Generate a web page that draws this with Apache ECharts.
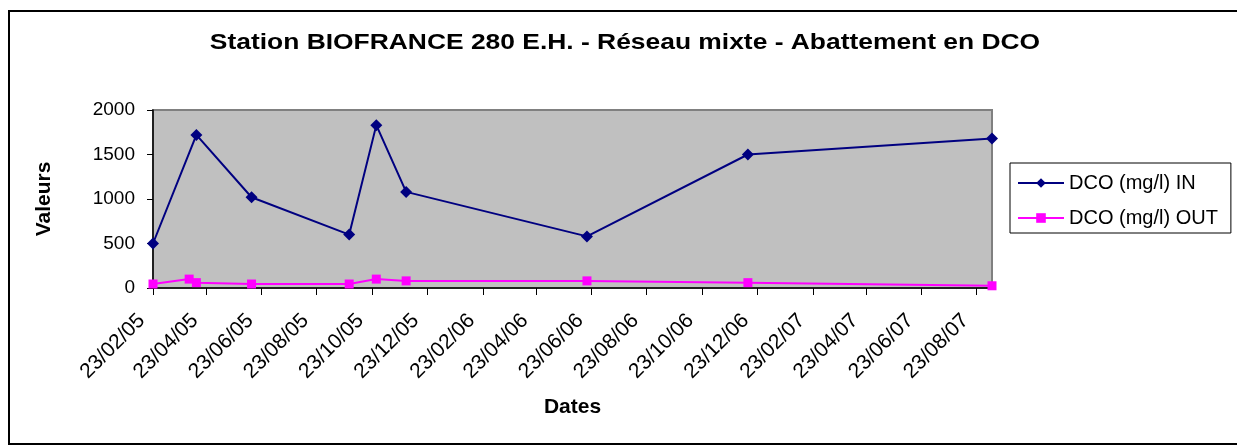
<!DOCTYPE html>
<html>
<head>
<meta charset="utf-8">
<script src="https://cdn.jsdelivr.net/npm/echarts@6/dist/echarts.min.js"></script>
<style>
html,body{margin:0;padding:0;background:#fff;}
#chart{width:1237px;height:446px;}
</style>
</head>
<body>
<div id="chart"></div>
<script>
// ---- data (dates as dd/mm/yy) ----
const inDates  = ['23/02/05','12/04/05','12/06/05','28/09/05','28/10/05','30/11/05','18/06/06','13/12/06','09/09/07'];
const inValues = [500, 1720, 1020, 600, 1830, 1080, 580, 1500, 1680];
const outDates  = ['23/02/05','04/04/05','12/04/05','12/06/05','28/09/05','28/10/05','30/11/05','18/06/06','13/12/06','09/09/07'];
const outValues = [45, 100, 60, 45, 45, 100, 80, 80, 60, 25];
const tickLabels = ['23/02/05','23/04/05','23/06/05','23/08/05','23/10/05','23/12/05','23/02/06','23/04/06','23/06/06','23/08/06','23/10/06','23/12/06','23/02/07','23/04/07','23/06/07','23/08/07'];
const axisMinDate = '23/02/05';
const axisMaxDate = '09/09/07';
const yTicks = [0, 500, 1000, 1500, 2000];
const seriesNames = ['DCO (mg/l) IN', 'DCO (mg/l) OUT'];
const titleText = 'Station BIOFRANCE 280 E.H. - Réseau mixte - Abattement en DCO';

// day number (UTC based, no DST issues)
function dayNum(s) {
  const p = s.split('/');
  return Math.round(Date.UTC(2000 + (+p[2]), (+p[1]) - 1, +p[0]) / 86400000);
}
const tickValues = tickLabels.map(dayNum);
const labelMap = {};
tickLabels.forEach((l, i) => { labelMap[tickValues[i]] = l; });

const FONT = "'Liberation Sans', Arial, sans-serif";
const chart = echarts.init(document.getElementById('chart'), null, {renderer: 'canvas'});
chart.setOption({
  animation: false,
  backgroundColor: '#ffffff',
  graphic: [{
    type: 'rect',
    shape: {x: 9, y: 11, width: 1240, height: 433},
    style: {fill: 'none', stroke: '#000', lineWidth: 2},
    silent: true
  }, {
    type: 'text',
    x: 625,
    y: 42.5,
    scaleX: 1.2,
    silent: true,
    style: {
      text: titleText,
      x: 0, y: 0,
      align: 'center',
      verticalAlign: 'middle',
      font: "bold 22px 'Liberation Sans', Arial, sans-serif",
      fill: '#000'
    }
  }],
  legend: {
    orient: 'vertical',
    left: 1010,
    top: 163,
    padding: [10, 13, 5, 7],
    itemGap: 15,
    itemWidth: 46,
    itemHeight: 12,
    borderColor: '#000',
    borderWidth: 1,
    backgroundColor: '#fff',
    textStyle: {fontFamily: FONT, fontSize: 20, color: '#000'},
    data: seriesNames
  },
  grid: {
    left: 153, right: 245, top: 110, bottom: 158,
    show: true,
    backgroundColor: '#C0C0C0',
    borderColor: '#808080',
    borderWidth: 2
  },
  xAxis: {
    type: 'value',
    min: dayNum(axisMinDate),
    max: dayNum(axisMaxDate),
    name: 'Dates',
    nameLocation: 'middle',
    nameGap: 109,
    nameTextStyle: {fontFamily: FONT, fontSize: 21, fontWeight: 'bold', color: '#000'},
    axisLine: {show: true, lineStyle: {color: '#000', width: 1.5}},
    axisTick: {show: true, length: 7, lineStyle: {color: '#000'}, customValues: tickValues},
    axisLabel: {
      rotate: 45,
      margin: 18,
      padding: [0, 16, 0, 0],
      fontFamily: FONT, fontSize: 21, color: '#000',
      customValues: tickValues,
      formatter: v => labelMap[v] || ''
    },
    splitLine: {show: false}
  },
  yAxis: {
    type: 'value',
    min: yTicks[0],
    max: yTicks[yTicks.length - 1],
    interval: 500,
    name: 'Valeurs',
    nameLocation: 'middle',
    nameRotate: 90,
    nameGap: 98,
    nameTextStyle: {fontFamily: FONT, fontSize: 21, fontWeight: 'bold', color: '#000'},
    axisLine: {show: true, lineStyle: {color: '#000', width: 1.5}},
    axisTick: {show: true, length: 6, lineStyle: {color: '#000'}},
    axisLabel: {margin: 18, fontFamily: FONT, fontSize: 19, color: '#000', formatter: v => String(v)},
    splitLine: {show: false}
  },
  series: [
    {
      name: seriesNames[0],
      type: 'line',
      data: inDates.map((d, i) => [dayNum(d), inValues[i]]),
      symbol: 'diamond',
      symbolSize: 12,
      showAllSymbol: true,
      lineStyle: {color: '#000080', width: 2},
      itemStyle: {color: '#000080'}
    },
    {
      name: seriesNames[1],
      type: 'line',
      data: outDates.map((d, i) => [dayNum(d), outValues[i]]),
      symbol: 'rect',
      symbolSize: 9,
      showAllSymbol: true,
      lineStyle: {color: '#FF00FF', width: 2},
      itemStyle: {color: '#FF00FF'}
    }
  ]
});
</script>
</body>
</html>
